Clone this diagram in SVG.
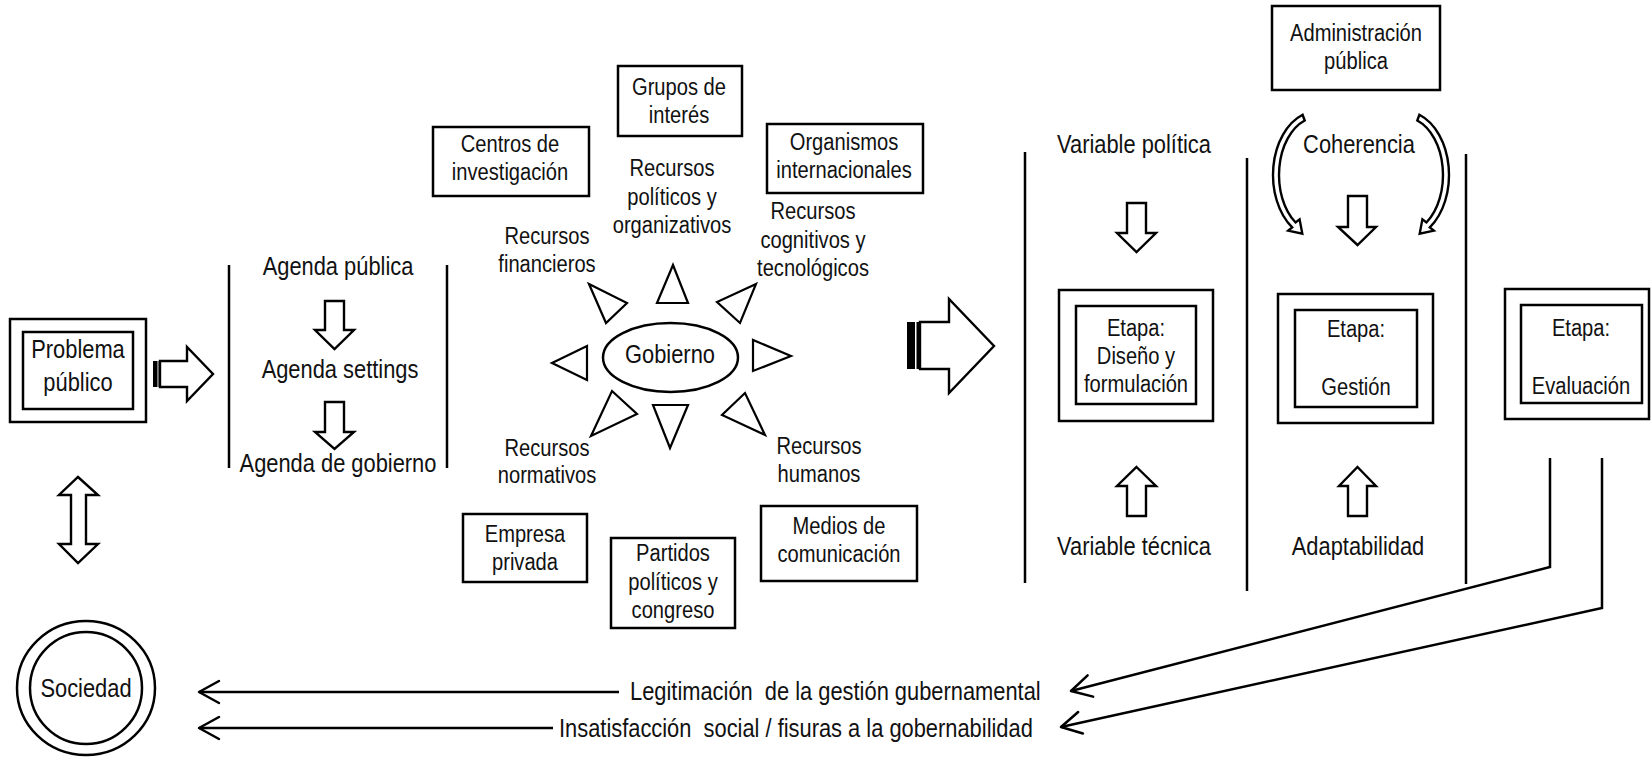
<svg xmlns="http://www.w3.org/2000/svg" width="1651" height="759" viewBox="0 0 1651 759">
  <style>
    .ln{fill:none;stroke:#000;stroke-width:2.5}
    .bx{fill:#fff;stroke:#000;stroke-width:2.5}
    .blk{fill:#fff;stroke:#000;stroke-width:2.4;stroke-linejoin:miter}
    .tri{fill:#fff;stroke:#000;stroke-width:2.2;stroke-linejoin:miter}
    .bar{fill:#000}
    text{font-family:"Liberation Sans",Arial,sans-serif;fill:#111;text-anchor:middle}
    .L{font-size:25px}
    .S{font-size:23px}
    .st{text-anchor:start}
  </style>
  <defs>
    <marker id="chev" markerUnits="userSpaceOnUse" markerWidth="24" markerHeight="26" refX="20" refY="12" orient="auto" overflow="visible">
      <path d="M0 1 L20 12 L0 23" fill="none" stroke="#000" stroke-width="2.5" stroke-linejoin="round" stroke-linecap="round"/>
    </marker>
  </defs>
  <rect width="1651" height="759" fill="#fff"/>

  <!-- Problema público -->
  <g id="problema">
    <rect class="bx" x="10" y="319" width="136" height="103"/>
    <rect class="bx" x="23" y="332" width="110" height="77"/>
    <text class="L" transform="translate(78 358) scale(.875 1)">Problema</text>
    <text class="L" transform="translate(78 391) scale(.875 1)">público</text>
  </g>

  <!-- Sociedad -->
  <g id="sociedad">
    <ellipse class="bx" cx="86" cy="688" rx="69" ry="67"/>
    <circle class="bx" cx="86" cy="688" r="56"/>
    <text class="L" transform="translate(86 697) scale(.875 1)">Sociedad</text>
  </g>

  <!-- Agenda column -->
  <g id="agenda">
    <line class="ln" x1="229" y1="265" x2="229" y2="468"/>
    <line class="ln" x1="447" y1="265" x2="447" y2="468"/>
    <text class="L" transform="translate(338 275) scale(.875 1)">Agenda pública</text>
    <text class="L" transform="translate(340 378) scale(.875 1)">Agenda settings</text>
    <text class="L" transform="translate(338 472) scale(.875 1)">Agenda de gobierno</text>
    <polygon class="blk" points="325,301 344,301 344,330 354,330 334.5,349 315,330 325,330"/>
    <polygon class="blk" points="325,402 344,402 344,432 354,432 334.5,449 315,432 325,432"/>
  </g>

  <!-- Actors around government -->
  <g id="centros">
    <rect class="bx" x="433" y="127" width="156" height="69"/>
    <text class="S" transform="translate(510 152) scale(.875 1)">Centros de</text>
    <text class="S" transform="translate(510 180) scale(.875 1)">investigación</text>
  </g>
  <g id="grupos">
    <rect class="bx" x="618" y="66" width="124" height="70"/>
    <text class="S" transform="translate(679 95) scale(.875 1)">Grupos de</text>
    <text class="S" transform="translate(679 123) scale(.875 1)">interés</text>
  </g>
  <g id="organismos">
    <rect class="bx" x="767" y="124" width="156" height="69"/>
    <text class="S" transform="translate(844 150) scale(.875 1)">Organismos</text>
    <text class="S" transform="translate(844 178) scale(.875 1)">internacionales</text>
  </g>
  <g id="empresa">
    <rect class="bx" x="463" y="514" width="124" height="68"/>
    <text class="S" transform="translate(525 542) scale(.875 1)">Empresa</text>
    <text class="S" transform="translate(525 570) scale(.875 1)">privada</text>
  </g>
  <g id="partidos">
    <rect class="bx" x="611" y="538" width="124" height="90"/>
    <text class="S" transform="translate(673 561) scale(.875 1)">Partidos</text>
    <text class="S" transform="translate(673 590) scale(.875 1)">políticos y</text>
    <text class="S" transform="translate(673 618) scale(.875 1)">congreso</text>
  </g>
  <g id="medios">
    <rect class="bx" x="761" y="506" width="156" height="75"/>
    <text class="S" transform="translate(839 534) scale(.875 1)">Medios de</text>
    <text class="S" transform="translate(839 562) scale(.875 1)">comunicación</text>
  </g>

  <!-- Resource labels -->
  <g id="recursos">
    <text class="S" transform="translate(672 176) scale(.875 1)">Recursos</text>
    <text class="S" transform="translate(672 205) scale(.875 1)">políticos y</text>
    <text class="S" transform="translate(672 233) scale(.875 1)">organizativos</text>
    <text class="S" transform="translate(547 244) scale(.875 1)">Recursos</text>
    <text class="S" transform="translate(547 272) scale(.875 1)">financieros</text>
    <text class="S" transform="translate(813 219) scale(.875 1)">Recursos</text>
    <text class="S" transform="translate(813 248) scale(.875 1)">cognitivos y</text>
    <text class="S" transform="translate(813 276) scale(.875 1)">tecnológicos</text>
    <text class="S" transform="translate(547 456) scale(.875 1)">Recursos</text>
    <text class="S" transform="translate(547 483) scale(.875 1)">normativos</text>
    <text class="S" transform="translate(819 454) scale(.875 1)">Recursos</text>
    <text class="S" transform="translate(819 482) scale(.875 1)">humanos</text>
  </g>

  <!-- Gobierno with radiating triangles -->
  <g id="gobierno">
    <ellipse class="bx" cx="670.5" cy="357.5" rx="67.5" ry="34.5"/>
    <text class="L" transform="translate(670 363) scale(.875 1)">Gobierno</text>
    <polygon class="tri" points="673,265 657,303 688,303"/>
    <polygon class="tri" points="589,284 627,303 606,323"/>
    <polygon class="tri" points="756,284 717,302 740,323"/>
    <polygon class="tri" points="552,363 587,346 587,380"/>
    <polygon class="tri" points="791,356 753,340 753,371"/>
    <polygon class="tri" points="591,436 612,391 637,414"/>
    <polygon class="tri" points="670,448 653,405 688,405"/>
    <polygon class="tri" points="765,435 745,393 722,415"/>
  </g>

  <!-- Stage columns -->
  <g id="divisores">
    <line class="ln" x1="1025" y1="152" x2="1025" y2="583"/>
    <line class="ln" x1="1247" y1="158" x2="1247" y2="591"/>
    <line class="ln" x1="1466" y1="154" x2="1466" y2="584"/>
  </g>

  <g id="administracion">
    <rect class="bx" x="1272" y="6" width="168" height="84"/>
    <text class="S" transform="translate(1356 41) scale(.875 1)">Administración</text>
    <text class="S" transform="translate(1356 69) scale(.875 1)">pública</text>
  </g>

  <g id="diseno">
    <text class="L" transform="translate(1134 153) scale(.875 1)">Variable política</text>
    <rect class="bx" x="1059" y="290" width="154" height="131"/>
    <rect class="bx" x="1076" y="306" width="120" height="98"/>
    <text class="S" transform="translate(1136 336) scale(.875 1)">Etapa:</text>
    <text class="S" transform="translate(1136 364) scale(.875 1)">Diseño y</text>
    <text class="S" transform="translate(1136 392) scale(.875 1)">formulación</text>
    <text class="L" transform="translate(1134 555) scale(.875 1)">Variable técnica</text>
  </g>

  <g id="gestion">
    <text class="L" transform="translate(1359 153) scale(.875 1)">Coherencia</text>
    <rect class="bx" x="1278" y="294" width="155" height="129"/>
    <rect class="bx" x="1295" y="310" width="122" height="97"/>
    <text class="S" transform="translate(1356 337) scale(.875 1)">Etapa:</text>
    <text class="S" transform="translate(1356 395) scale(.875 1)">Gestión</text>
    <text class="L" transform="translate(1358 555) scale(.875 1)">Adaptabilidad</text>
  </g>

  <g id="evaluacion">
    <rect class="bx" x="1505" y="289" width="144" height="130"/>
    <rect class="bx" x="1521" y="305" width="121" height="98"/>
    <text class="S" transform="translate(1581 336) scale(.875 1)">Etapa:</text>
    <text class="S" transform="translate(1581 394) scale(.875 1)">Evaluación</text>
  </g>

  <!-- Connectors -->
  <g id="conectores">
    <!-- Problema -> Agenda -->
    <rect class="bar" x="153" y="361" width="4.5" height="26"/>
    <rect class="bar" x="158.5" y="361" width="1.8" height="26"/>
    <polygon class="blk" points="160,361 187,361 187,347 213,374 187,401 187,387 160,387"/>
    <!-- Problema <-> Sociedad -->
    <polygon class="blk" points="78,477 98,495 86,495 86,544 98,544 78,563 59,544 71,544 71,495 59,495"/>
    <!-- Gobierno -> stages -->
    <rect class="bar" x="907" y="322" width="8" height="47"/>
    <rect class="bar" x="916.5" y="322" width="2.5" height="47"/>
    <polygon class="blk" points="920,322 949,322 949,299 994,346 949,393 949,369 920,369"/>
    <!-- Variables feeding the stages -->
    <polygon class="blk" points="1127,203 1146,203 1146,233 1156,233 1136.5,252 1117,233 1127,233"/>
    <polygon class="blk" points="1136.5,467 1156,486 1146,486 1146,516 1127,516 1127,486 1117,486"/>
    <polygon class="blk" points="1348,196 1367,196 1367,227 1376,227 1357.5,245 1338,227 1348,227"/>
    <polygon class="blk" points="1357.5,467 1376,486 1367,486 1367,516 1348,516 1348,486 1339,486"/>
    <!-- Curved arrows from Administración pública -->
    <path id="curva" class="blk" stroke-width="2" d="M1302.6 114.8 A45 64 0 0 0 1292.2 227.4 L1288.2 230.6 L1302.3 233.6 L1299.6 219.4 L1295.6 222.5 A39 58 0 0 1 1304.7 120.5 Z"/>
    <path class="blk" stroke-width="2" transform="translate(2722 0) scale(-1 1)" d="M1302.6 114.8 A45 64 0 0 0 1292.2 227.4 L1288.2 230.6 L1302.3 233.6 L1299.6 219.4 L1295.6 222.5 A39 58 0 0 1 1304.7 120.5 Z"/>
    <!-- Evaluación -> outcomes -->
    <polyline class="ln" points="1550,458 1550,567 1071,691" marker-end="url(#chev)"/>
    <polyline class="ln" points="1602,458 1602,608 1061,727" marker-end="url(#chev)"/>
    <!-- Outcomes -> Sociedad -->
    <line class="ln" x1="619" y1="692" x2="199" y2="692" marker-end="url(#chev)"/>
    <line class="ln" x1="553" y1="728" x2="199" y2="728" marker-end="url(#chev)"/>
  </g>

  <g id="resultados">
    <text class="L st" xml:space="preserve" transform="translate(630 700) scale(.875 1)">Legitimación  de la gestión gubernamental</text>
    <text class="L st" xml:space="preserve" transform="translate(559 737) scale(.875 1)">Insatisfacción  social / fisuras a la gobernabilidad</text>
  </g>
</svg>
